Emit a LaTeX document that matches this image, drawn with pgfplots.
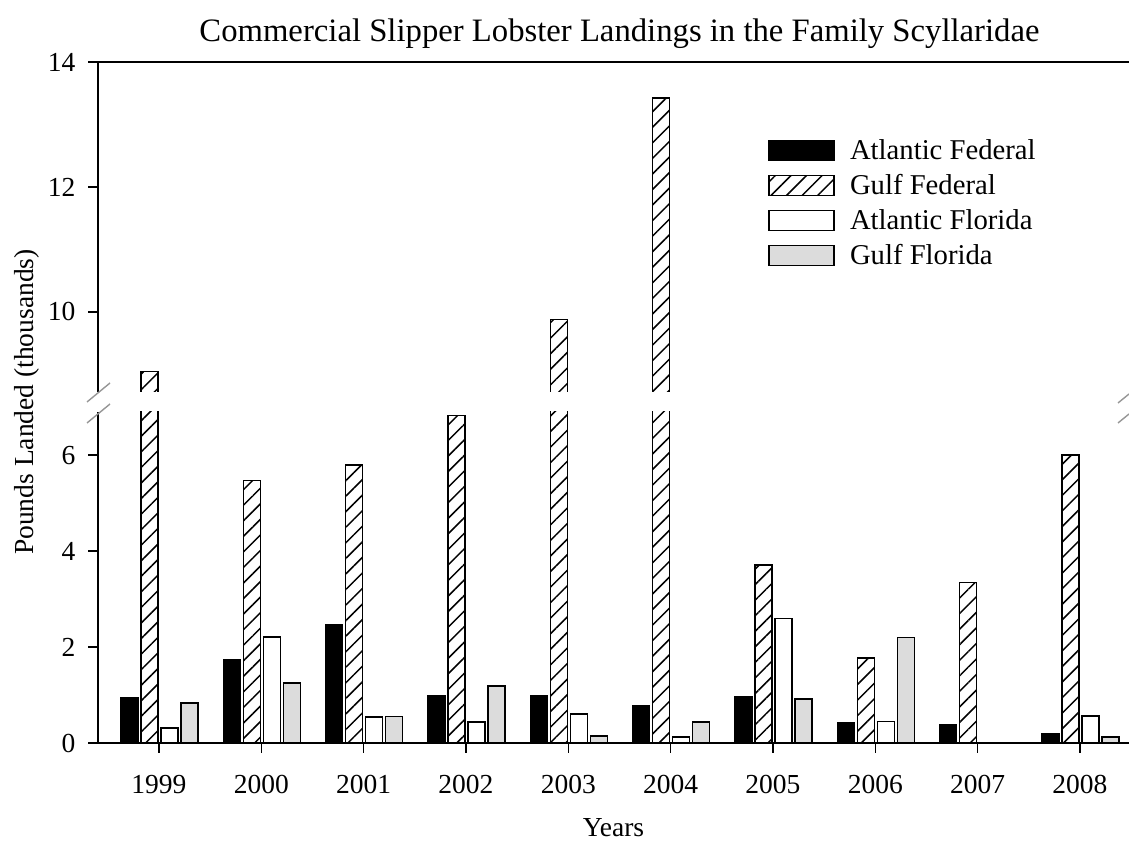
\documentclass[border=0pt]{standalone}
\usepackage{fontspec}
\setmainfont{Liberation Serif}
\usepackage{pgfplots}
\usepackage{pgfplotstable}
\pgfplotsset{compat=1.18}
\usetikzlibrary{patterns.meta}
\definecolor{gulfgray}{RGB}{220,220,220}
\definecolor{breakgray}{RGB}{150,150,150}

\pgfplotstableread{
x atlfed gulffed atlfl gulffl
0 0.94 9.05 0.31 0.83
1 1.73 5.47 2.21 1.25
2 2.46 5.79 0.54 0.55
3 0.98 6.83 0.44 1.19
4 0.98 9.88 0.60 0.15
5 0.77 13.42 0.13 0.44
6 0.96 3.71 2.60 0.92
7 0.43 1.77 0.45 2.20
8 0.37 3.35 nan nan
9 0.19 6.00 0.56 0.12
}\data

\pgfplotsset{
  common/.style={
    scale only axis, width=1031pt,
    xmin=-0.596, xmax=9.479,
    axis line style={line width=1.6pt},
    tick style={line width=1.5pt, black},
    tick align=outside, major tick length=10pt,
    ticklabel style={font=\fontsize{27.5}{27.5}\selectfont},
    /pgf/number format/assume math mode=true,
    ybar, bar width=17pt,
  },
  s1/.style={fill=black, draw=black, line width=1.5pt, bar shift=-29.5pt},
  s2/.style={pattern={Lines[angle=45,distance=11pt,line width=1.5pt]}, pattern color=black, draw=black, line width=1.5pt, bar shift=-9.5pt},
  s3/.style={fill=white, draw=black, line width=1.5pt, bar shift=10.5pt},
  s4/.style={fill=gulfgray, draw=black, line width=1.5pt, bar shift=30.5pt},
}

\begin{document}
\begin{tikzpicture}
\path[use as bounding box] (0,0) rectangle (1129pt,842pt);
% lower axis
\begin{axis}[common,
  at={(98pt,99pt)}, anchor=south west,
  height=331pt,
  ymin=0, ymax=6.9,
  axis x line*=bottom, axis y line*=left,
  xtick={0,...,9},
  xticklabels={1999,2000,2001,2002,2003,2004,2005,2006,2007,2008},
  xticklabel style={yshift=-19pt},
  ytick={0,2,4,6},
  yticklabel style={xshift=-9pt},
  xlabel={Years},
  xlabel style={font=\fontsize{27.5}{27.5}\selectfont, at={(axis description cs:0.5,0)}, anchor=center, yshift=-85pt},
  ylabel={Pounds Landed (thousands)},
  ylabel style={font=\fontsize{27.5}{27.5}\selectfont, at={(axis description cs:-0.0689,1.03)}, anchor=center},
]
\addplot[s1] table[x=x,y=atlfed]{\data};
\addplot[s2] table[x=x,y=gulffed]{\data};
\addplot[s3] table[x=x,y=atlfl]{\data};
\addplot[s4] table[x=x,y=gulffl]{\data};
\end{axis}
% upper axis: full 0..14 scale, clipped to the part above the break
\begin{scope}
\clip (0pt,450pt) rectangle (1129pt,842pt);
\begin{axis}[common,
  at={(98pt,-95pt)}, anchor=south west,
  height=875pt,
  ymin=0, ymax=14,
  axis x line*=top, axis y line*=left,
  xtick=\empty,
  ytick={10,12,14},
  yticklabel style={xshift=-9pt},
  title={Commercial Slipper Lobster Landings in the Family Scyllaridae},
  title style={font=\fontsize{32.7}{32.7}\selectfont, at={(axis description cs:0.5,1)}, anchor=base, yshift=14pt, xshift=6pt},
  legend style={at={(0.6499,0.9131)}, anchor=north west, draw=none, fill=none, inner sep=0pt, outer sep=0pt,
    font=\fontsize{28.7}{28.7}\selectfont, row sep=9.3pt, /tikz/every odd column/.append style={column sep=7pt}},
  legend cell align=left,
  legend image code/.code={\draw[#1, bar shift=0pt] (0pt,-10pt) rectangle (65pt,10pt);},
  legend style={nodes={inner xsep=8.5pt, inner ysep=2pt}},
]
\addlegendimage{s1}
\addplot[s2, restrict y to domain=8.72:20] table[x=x,y=gulffed]{\data};
\addlegendimage{s3}
\addlegendimage{s4}
\legend{Atlantic Federal, Gulf Federal, Atlantic Florida, Gulf Florida}
\end{axis}
\end{scope}
% axis break marks
\draw[breakgray, line width=1.4pt] (87pt,419pt) -- (110pt,438pt);
\draw[breakgray, line width=1.4pt] (87pt,440pt) -- (110pt,459pt);
\draw[breakgray, line width=1.4pt] (1118pt,419pt) -- (1129pt,428pt);
\draw[breakgray, line width=1.4pt] (1118pt,439pt) -- (1129pt,448pt);
\end{tikzpicture}
\end{document}
